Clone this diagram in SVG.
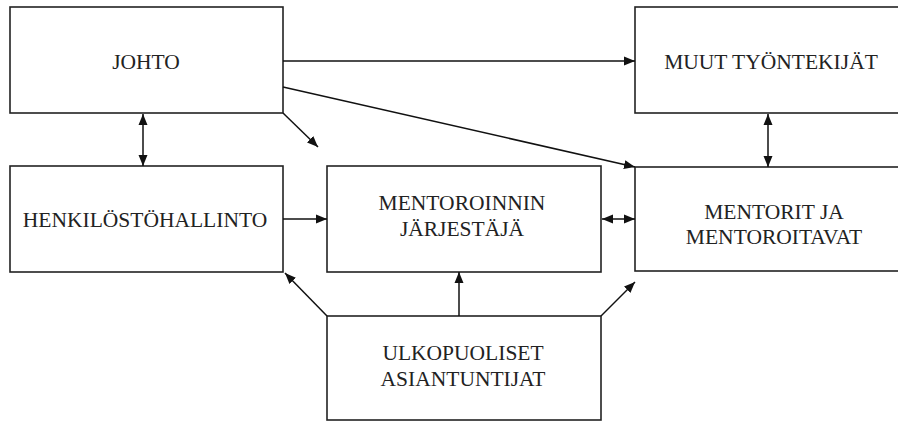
<svg xmlns="http://www.w3.org/2000/svg" width="898" height="422" viewBox="0 0 898 422">
<style>
.box{fill:#fff;stroke:#222;stroke-width:1.6}
.lbl{font-size:21.5px;fill:#222;text-anchor:middle}
.con{stroke:#111;stroke-width:1.5;fill:none}
.end{marker-end:url(#ah)}
.both{marker-end:url(#ah);marker-start:url(#ahs)}
</style>
<defs>
<marker id="ah" viewBox="0 0 11 10" refX="11" refY="5" markerWidth="11" markerHeight="10" markerUnits="userSpaceOnUse" orient="auto"><path d="M0,0.5 L11,5 L0,9.5 Z" fill="#111"/></marker>
<marker id="ahs" viewBox="0 0 11 10" refX="0" refY="5" markerWidth="11" markerHeight="10" markerUnits="userSpaceOnUse" orient="auto"><path d="M11,0.5 L0,5 L11,9.5 Z" fill="#111"/></marker>
</defs>
<rect width="898" height="422" fill="#fff"/>
<g font-family="'Liberation Serif', 'DejaVu Serif', serif">
<g id="johto"><rect class="box" x="10" y="7" width="273" height="106"/><text class="lbl" x="146" y="69">JOHTO</text></g>
<g id="muut"><rect class="box" x="635" y="7" width="290" height="106"/><text class="lbl" x="771" y="69">MUUT TYÖNTEKIJÄT</text></g>
<g id="henkilosto"><rect class="box" x="10" y="166" width="273" height="106"/><text class="lbl" x="145" y="227">HENKILÖSTÖHALLINTO</text></g>
<g id="mentoroinnin"><rect class="box" x="327" y="166" width="274" height="106"/><text class="lbl" x="462" y="210">MENTOROINNIN</text><text class="lbl" x="462" y="236">JÄRJESTÄJÄ</text></g>
<g id="mentorit"><rect class="box" x="635" y="167" width="290" height="104"/><text class="lbl" x="774" y="219">MENTORIT JA</text><text class="lbl" x="774" y="244">MENTOROITAVAT</text></g>
<g id="ulkopuoliset"><rect class="box" x="327" y="316" width="274" height="104"/><text class="lbl" x="463" y="360">ULKOPUOLISET</text><text class="lbl" x="463" y="386">ASIANTUNTIJAT</text></g>
</g>
<g id="connectors">
<line class="con end" x1="283" y1="61" x2="635" y2="61"/>
<line class="con end" x1="283" y1="87" x2="635" y2="167"/>
<line class="con end" x1="283" y1="113" x2="318" y2="147"/>
<line class="con both" x1="143" y1="114" x2="143" y2="166"/>
<line class="con both" x1="768" y1="114" x2="768" y2="167"/>
<line class="con end" x1="283" y1="219" x2="327" y2="219"/>
<line class="con both" x1="602" y1="219" x2="635" y2="219"/>
<line class="con end" x1="459" y1="316" x2="459" y2="272"/>
<line class="con end" x1="327" y1="316" x2="285" y2="273"/>
<line class="con end" x1="601" y1="316" x2="635" y2="282"/>
</g>
</svg>
